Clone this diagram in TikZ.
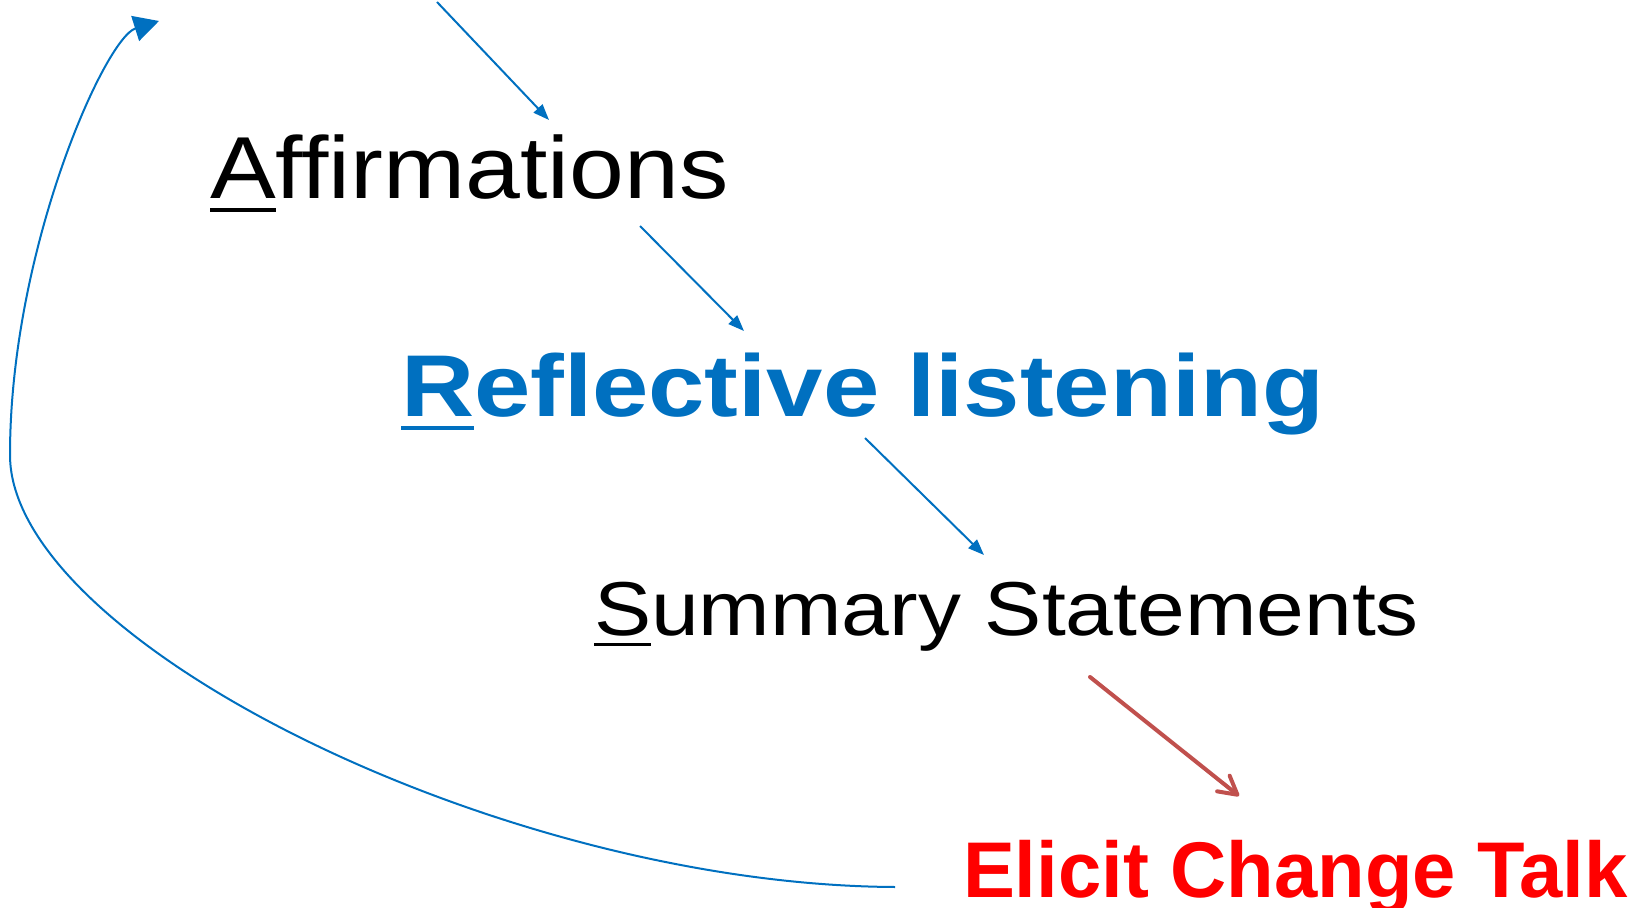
\documentclass[tikz,border=0pt]{standalone}
\usepackage{fontspec}
\usetikzlibrary{arrows.meta}
\setmainfont{Liberation Sans}
\newfontfamily\affirmfont[FakeStretch=1.12]{Liberation Sans}
\newfontfamily\reflectfont[FakeStretch=1.155]{Liberation Sans}
\newfontfamily\summaryfont[FakeStretch=1.123]{Liberation Sans}
\newfontfamily\elicitfont[FakeStretch=0.985]{Liberation Sans}
\definecolor{miblue}{HTML}{0070C0}
\definecolor{mired}{HTML}{FF0000}
\definecolor{arrowred}{HTML}{C0504D}
% underline only the first letter of a word
\newcommand\firstletter[1]{\setbox0\hbox{#1}\rlap{\rule[-0.15em]{\wd0}{0.05em}}\box0}
\begin{document}
\begin{tikzpicture}[x=0.5pt,y=-0.5pt,
  label/.style={anchor=base west,inner sep=0pt,outer sep=0pt},
  bluearrow/.style={draw=miblue,line width=1pt,-{Triangle[length=8pt,width=6pt]}},
  redarrow/.style={draw=arrowred,line width=2pt,line cap=round,-{Straight Barb[length=9pt,width=10pt,round]}}]
\useasboundingbox (0,0) rectangle (1642,908);

\node[label,text=black,font=\affirmfont\fontsize{44}{52}\selectfont] (aff) at (210,199) {\firstletter{A}ffirmations};
\node[label,text=miblue,font=\reflectfont\bfseries\fontsize{43.85}{52}\selectfont] (refl) at (401,417) {\firstletter{R}eflective listening};
\node[label,text=black,font=\summaryfont\fontsize{38.2}{46}\selectfont] (summ) at (594,635) {\firstletter{S}ummary Statements};
\node[label,text=mired,font=\elicitfont\bfseries\fontsize{39.5}{46}\selectfont] (elicit) at (963,897) {Elicit Change Talk};

% connector end points
\coordinate (a0) at (437,2);
\coordinate (a1) at (549,120);
\coordinate (b0) at (640,226);
\coordinate (b1) at (744,331);
\coordinate (c0) at (865,438);
\coordinate (c1) at (984,555);
\coordinate (d0) at (1090,677);
\coordinate (d1) at (1239,796);
\coordinate (loopstart) at (895,887);
\coordinate (loopside) at (10,455);
\coordinate (looptip) at (159,21);

\draw[bluearrow] (a0) -- (a1);
\draw[bluearrow] (b0) -- (b1);
\draw[bluearrow] (c0) -- (c1);
\draw[redarrow] (d0) -- (d1);

% feedback loop back to the top
\draw[miblue,line width=1pt,-{Triangle[length=12.5pt,width=13pt]}]
  (loopstart) .. controls (500,885) and (10,640) .. (loopside)
  .. controls (10,250) and (105,38) .. (looptip);
\end{tikzpicture}
\end{document}
